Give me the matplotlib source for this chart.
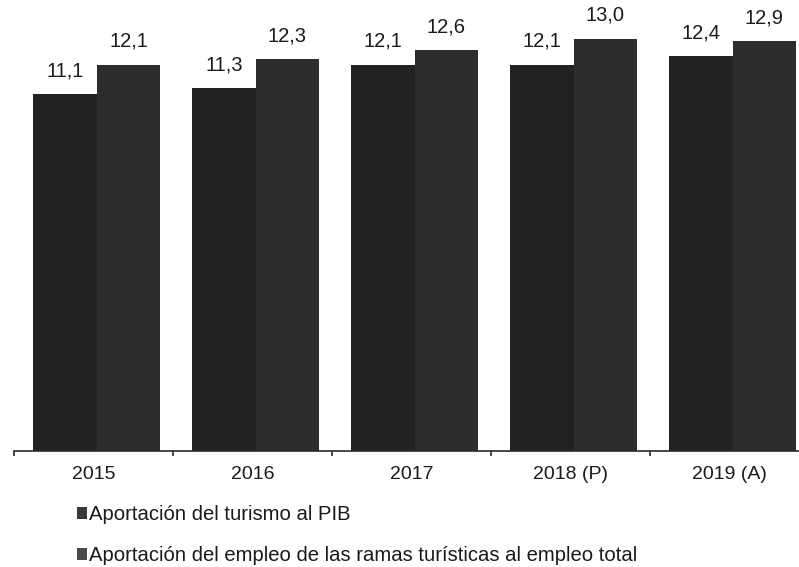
import matplotlib
matplotlib.use("Agg")
import matplotlib.pyplot as plt
from matplotlib.patches import Patch
import numpy as np

years = ["2015", "2016", "2017", "2018 (P)", "2019 (A)"]
pib = [11.1, 11.3, 12.1, 12.1, 12.4]
empleo = [12.1, 12.3, 12.6, 13.0, 12.9]
series_names = [
    "Aportación del turismo al PIB",
    "Aportación del empleo de las ramas turísticas al empleo total",
]

plt.rcParams["font.family"] = ["Liberation Sans", "DejaVu Sans"]

W, H = 799, 567
fig = plt.figure(figsize=(W / 100, H / 100), dpi=100)
fig.patch.set_facecolor("white")

# axes in pixel terms: x 14..809, y 0..451 (from top)
ax = fig.add_axes([14 / W, (H - 451) / H, 795 / W, 451 / H])
y_low, y_high = -1.13, 14.32
ax.set_xlim(-0.5, 4.5)
ax.set_ylim(y_low, y_high)

x = np.arange(len(years))
width = 0.40
c_pib = "#222222"
c_emp = "#2d2d2d"

b1 = ax.bar(x - 0.18, np.array(pib) - y_low, width, bottom=y_low, color=c_pib, linewidth=0)
b2 = ax.bar(x + 0.22, np.array(empleo) - y_low, width, bottom=y_low, color=c_emp, linewidth=0)

for bars, vals in ((b1, pib), (b2, empleo)):
    for bar, v in zip(bars, vals):
        ax.annotate(f"{v:.1f}".replace(".", ","),
                    (bar.get_x() + bar.get_width() / 2, v),
                    xytext=(0, 10), textcoords="offset points",
                    ha="center", va="bottom", fontsize=14.5, color="#1a1a1a")

for s in ("top", "right", "left"):
    ax.spines[s].set_visible(False)
ax.spines["bottom"].set_linewidth(1.2)
ax.spines["bottom"].set_color("#2a2a2a")

ax.set_yticks([])
ax.set_xticks(x)
ax.set_xticklabels(years, fontsize=14, color="#1a1a1a")
ax.tick_params(axis="x", which="major", length=0, pad=11)
ax.set_xticks(np.arange(-0.5, 5.0, 1.0), minor=True)
ax.tick_params(axis="x", which="minor", length=3.5, width=1.2, color="#2a2a2a", direction="out")

handles = [Patch(facecolor="#3a3a3a", edgecolor="none"),
           Patch(facecolor="#4a4a4a", edgecolor="none")]
fig.legend(handles, series_names, loc="upper left",
           bbox_to_anchor=(77 / W, (H - 505) / H), frameon=False,
           fontsize=14.6, handlelength=0.5, handleheight=0.5,
           handletextpad=0.1, labelspacing=1.1, borderpad=0,
           borderaxespad=0, labelcolor="#1a1a1a")

fig.savefig("out.png", dpi=100, facecolor="white")
